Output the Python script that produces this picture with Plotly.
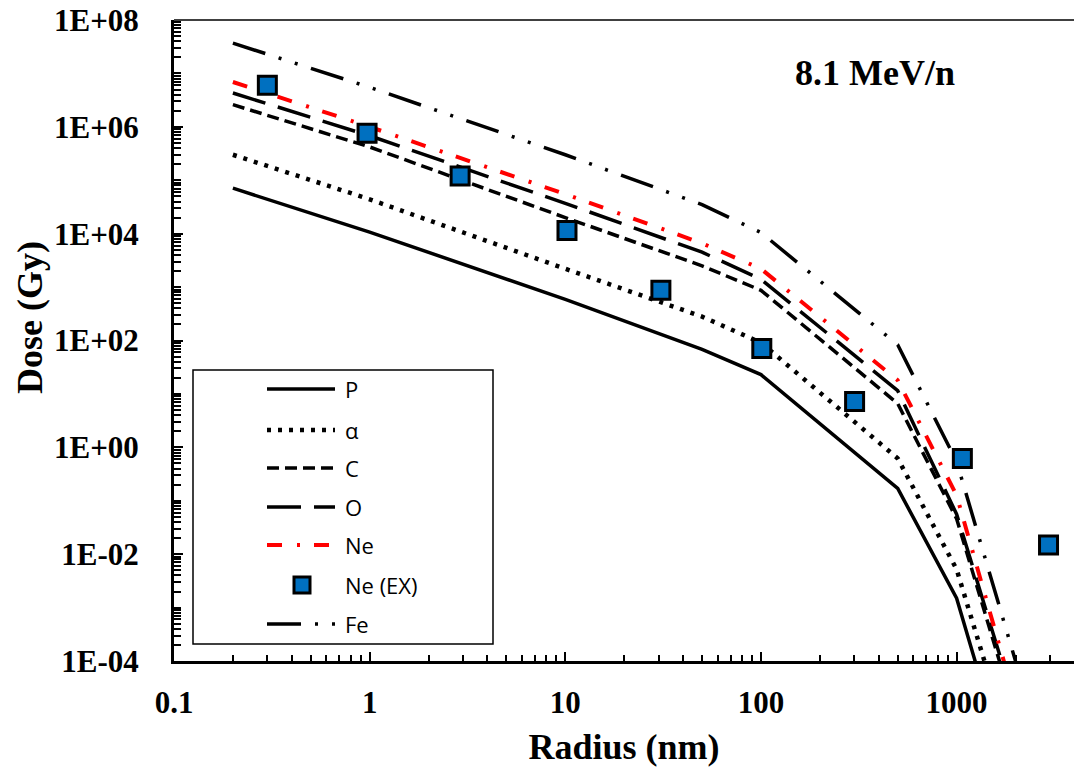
import math
import plotly.graph_objects as go

# Radial dose profiles for 8.1 MeV/n ions (model curves)
radius_nm = [0.2, 1, 10, 50, 100, 500, 1000, 2000]
dose_P = [7.1e4, 1.07e4, 5.9e2, 68, 23, 0.17, 1.5e-3, 2.7e-7]
dose_alpha = [3.0e5, 4.4e4, 2.2e3, 2.8e2, 91, 0.62, 5.2e-3, 1.2e-6]
dose_C = [2.6e6, 4.2e5, 2.0e4, 2.5e3, 8.7e2, 6.6, 4.6e-2, 1.0e-5]
dose_O = [4.3e6, 6.8e5, 3.7e4, 4.5e3, 1.4e3, 11.5, 5.6e-2, 1.4e-5]
dose_Ne = [6.9e6, 1.0e6, 5.5e4, 6.6e3, 2.2e3, 18, 0.126, 1.7e-5]
dose_Fe = [3.7e7, 5.5e6, 3.0e5, 3.5e4, 1.05e4, 83, 0.54, 1.0e-4]

# Measured Ne points
ex_radius_nm = [0.3, 0.97, 2.9, 10.2, 30.8, 101, 301, 1070, 2950]
ex_dose_Ne = [6.0e6, 7.6e5, 1.2e5, 1.15e4, 870, 71, 7.2, 0.62, 0.0148]

x_tick_vals = [0.1, 1, 10, 100, 1000]
x_tick_text = ["0.1", "1", "10", "100", "1000"]
y_tick_vals = [1e8, 1e6, 1e4, 1e2, 1, 1e-2, 1e-4]
y_tick_text = ["1E+08", "1E+06", "1E+04", "1E+02", "1E+00", "1E-02", "1E-04"]

RED = "#FF0000"
BLUE = "#0070C0"

curves = [
    ("P", dose_P, "black", 3.5, "solid"),
    ("α", dose_alpha, "black", 4.5, "4px,7px"),
    ("C", dose_C, "black", 3.5, "12px,6px"),
    ("O", dose_O, "black", 3.5, "34px,13px"),
    ("Ne", dose_Ne, RED, 4, "15px,15px,3px,14px"),
]
fe_curve = ("Fe", dose_Fe, "black", 3.5, "34px,14px,3px,14px,3px,14px")

fig = go.Figure()
for name, ys, color, width, dash in curves + [fe_curve]:
    fig.add_trace(go.Scatter(
        x=radius_nm, y=ys, mode="lines", name=name,
        line=dict(color=color, width=width, dash=dash),
        showlegend=False, cliponaxis=True,
    ))

fig.add_trace(go.Scatter(
    x=ex_radius_nm, y=ex_dose_Ne, mode="markers", name="Ne (EX)",
    marker=dict(symbol="square", size=18, color=BLUE,
                line=dict(color="black", width=3)),
    showlegend=False, cliponaxis=False,
))

# Minor tick positions: every integer multiple within each decade
x_minor = [m * 10 ** k for k in range(-1, 4) for m in range(2, 10)]
y_minor = [m * 10 ** k for k in range(-4, 8) for m in range(1, 10)
           if not (m == 1 and k % 2 == 0)]

tick_font = dict(family="Liberation Serif, Times New Roman, serif",
                 size=31, color="black", weight="bold")
title_font = dict(family="Liberation Serif, Times New Roman, serif",
                  size=36, color="black", weight="bold")

fig.update_xaxes(
    type="log", range=[-1, 3.6],
    tickmode="array", tickvals=x_tick_vals, ticktext=x_tick_text,
    ticks="inside", ticklen=9, tickwidth=2, tickcolor="black",
    minor=dict(tickmode="array", tickvals=x_minor, ticks="inside",
               ticklen=6, tickwidth=2, tickcolor="black", showgrid=False),
    showline=True, linecolor="black", linewidth=3, mirror=False,
    showgrid=False, zeroline=False,
    tickfont=tick_font, ticklabelstandoff=12,
    title=dict(text="Radius (nm)", font=title_font, standoff=16),
)
fig.update_yaxes(
    type="log", range=[-4, 8],
    tickmode="array", tickvals=y_tick_vals, ticktext=y_tick_text,
    ticks="inside", ticklen=9, tickwidth=2, tickcolor="black",
    minor=dict(tickmode="array", tickvals=y_minor, ticks="inside",
               ticklen=7, tickwidth=2, tickcolor="black", showgrid=False),
    showline=True, linecolor="black", linewidth=3, mirror=False,
    showgrid=False, zeroline=False,
    tickfont=tick_font, ticklabelstandoff=26,
)

shapes = []
annotations = []

# Thin frame line along the top of the plot area
shapes.append(dict(type="line", xref="paper", yref="paper",
                   x0=0, x1=1, y0=1, y1=1,
                   line=dict(color="black", width=1.5)))

# Legend box drawn in paper coordinates
plot_w, plot_h = 900.0, 641.0


def px_x(p):
    return (p - 174) / plot_w


def px_y(p):
    return (661 - p) / plot_h


shapes.append(dict(type="rect", xref="paper", yref="paper",
                   x0=px_x(193), x1=px_x(493), y0=px_y(644), y1=px_y(370),
                   line=dict(color="black", width=1.5), fillcolor="white",
                   layer="above"))

legend_rows = [
    ("P", "line", curves[0]),
    ("α", "line", curves[1]),
    ("C", "line", curves[2]),
    ("O", "line", curves[3]),
    ("Ne", "line", curves[4]),
    ("Ne (EX)", "marker", None),
    ("Fe", "line", fe_curve),
]
row_y = [389, 430, 468, 507, 545, 585, 624]
legend_font = dict(family="Open Sans, Noto Sans, sans-serif", size=22,
                   color="black")

for (label, kind, style), yp in zip(legend_rows, row_y):
    if kind == "line":
        _, _, color, width, dash = style
        shapes.append(dict(type="line", xref="paper", yref="paper",
                           x0=px_x(267), x1=px_x(335), y0=px_y(yp), y1=px_y(yp),
                           line=dict(color=color, width=width, dash=dash),
                           layer="above"))
    else:
        shapes.append(dict(type="rect", xref="paper", yref="paper",
                           xsizemode="pixel", ysizemode="pixel",
                           xanchor=px_x(302), yanchor=px_y(yp),
                           x0=-8, x1=8, y0=-8, y1=8,
                           fillcolor=BLUE, line=dict(color="black", width=3),
                           layer="above"))
    annotations.append(dict(xref="paper", yref="paper",
                            x=px_x(343), y=px_y(yp), text=label,
                            showarrow=False, xanchor="left", yanchor="middle",
                            font=legend_font))

annotations.append(dict(xref="paper", yref="paper", x=px_x(875), y=px_y(73),
                        text="8.1 MeV/n", showarrow=False,
                        xanchor="center", yanchor="middle",
                        font=dict(family="Liberation Serif, Times New Roman, serif",
                                  size=36, color="black", weight="bold")))
annotations.append(dict(xref="paper", yref="paper", x=px_x(30), y=px_y(318),
                        text="Dose (Gy)", textangle=-90, showarrow=False,
                        xanchor="center", yanchor="middle", font=title_font))

fig.update_layout(
    width=1074, height=767,
    margin=dict(l=174, r=0, t=20, b=106, pad=0),
    paper_bgcolor="white", plot_bgcolor="white",
    shapes=shapes, annotations=annotations,
    showlegend=False,
)

fig.write_html("out.html")
